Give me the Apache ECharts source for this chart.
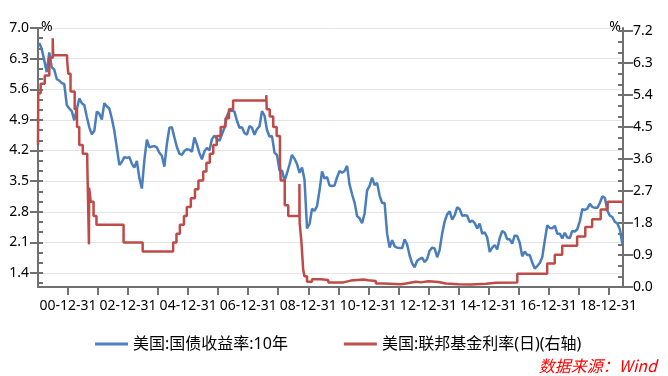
<!DOCTYPE html>
<html>
<head>
<meta charset="utf-8">
<script src="https://cdn.jsdelivr.net/npm/echarts@6/dist/echarts.min.js"></script>
<style>
html,body{margin:0;padding:0;background:#fff;}
#main{width:668px;height:376px;}
</style>
</head>
<body>
<div id="main"></div>
<script>
// 美国10年期国债收益率, 月度, 2000-01 ~ 2019-06
const startYear = 2000;
const yield10y = [
    6.66, 6.52, 6.26, 5.99, 6.44, 6.10, 6.05, 5.83, 5.80, 5.74, 5.72, 5.24, // 2000
    5.16, 5.10, 4.89, 5.14, 5.39, 5.28, 5.24, 4.97, 4.73, 4.57, 4.65, 5.09, // 2001
    5.04, 4.91, 5.28, 5.21, 5.16, 4.93, 4.65, 4.26, 3.87, 3.94, 4.05, 4.03, // 2002
    4.05, 3.90, 3.81, 3.96, 3.57, 3.33, 3.98, 4.45, 4.27, 4.29, 4.30, 4.27, // 2003
    4.15, 4.08, 3.83, 4.35, 4.72, 4.73, 4.50, 4.28, 4.13, 4.10, 4.19, 4.23, // 2004
    4.22, 4.17, 4.50, 4.34, 4.14, 4.00, 4.18, 4.26, 4.20, 4.46, 4.54, 4.47, // 2005
    4.42, 4.57, 4.72, 4.99, 5.11, 5.11, 5.09, 4.88, 4.72, 4.73, 4.60, 4.56, // 2006
    4.76, 4.72, 4.56, 4.69, 4.75, 5.10, 5.00, 4.67, 4.52, 4.53, 4.15, 4.10, // 2007
    3.74, 3.74, 3.51, 3.68, 3.88, 4.10, 4.01, 3.89, 3.69, 3.81, 3.53, 2.42, // 2008
    2.52, 2.87, 2.82, 2.93, 3.29, 3.72, 3.56, 3.59, 3.40, 3.39, 3.40, 3.59, // 2009
    3.73, 3.69, 3.73, 3.85, 3.42, 3.20, 3.01, 2.70, 2.65, 2.54, 2.76, 3.29, // 2010
    3.39, 3.58, 3.41, 3.46, 3.17, 3.00, 3.00, 2.30, 1.98, 2.15, 2.01, 1.98, // 2011
    1.97, 1.97, 2.17, 2.05, 1.80, 1.62, 1.53, 1.68, 1.72, 1.75, 1.65, 1.72, // 2012
    1.91, 1.98, 1.96, 1.76, 1.93, 2.30, 2.58, 2.74, 2.81, 2.62, 2.72, 2.90, // 2013
    2.86, 2.71, 2.72, 2.71, 2.56, 2.60, 2.54, 2.42, 2.53, 2.30, 2.33, 2.21, // 2014
    1.88, 1.98, 2.04, 1.94, 2.20, 2.36, 2.32, 2.17, 2.17, 2.07, 2.26, 2.24, // 2015
    2.09, 1.78, 1.89, 1.81, 1.81, 1.64, 1.50, 1.56, 1.63, 1.76, 2.14, 2.49, // 2016
    2.43, 2.42, 2.48, 2.30, 2.30, 2.19, 2.32, 2.21, 2.20, 2.36, 2.35, 2.40, // 2017
    2.58, 2.86, 2.84, 2.87, 2.98, 2.91, 2.89, 2.89, 3.00, 3.15, 3.12, 2.83, // 2018
    2.71, 2.68, 2.57, 2.53, 2.40, 2.07                                      // 2019
];

// 联邦基金利率(日), 取变动点
const fedDates = [
    '2000-01-01','2000-01-04','2000-02-03','2000-03-22','2000-05-17','2000-06-28','2000-07-03','2000-12-20',
    '2001-01-04','2001-02-01','2001-03-21','2001-04-19','2001-05-16','2001-06-28','2001-08-22','2001-09-12',
    '2001-09-14','2001-10-03','2001-11-07','2001-12-12','2002-11-07','2003-06-26','2004-07-01','2004-08-11',
    '2004-09-22','2004-11-11','2004-12-15','2005-02-03','2005-03-23','2005-05-04','2005-07-01','2005-08-10',
    '2005-09-21','2005-11-02','2005-12-14','2006-01-31','2006-03-29','2006-05-11','2006-06-30','2007-08-08',
    '2007-08-13','2007-09-19','2007-11-01','2007-12-12','2008-01-22','2008-01-31','2008-03-19','2008-05-01',
    '2008-09-15','2008-09-18','2008-10-08','2008-10-30','2008-11-15','2008-12-16','2009-02-15','2009-06-01',
    '2009-09-01','2010-03-01','2010-06-01','2010-11-01','2011-01-01','2011-04-01','2011-07-01','2012-02-01',
    '2012-04-01','2012-08-01','2012-10-01','2013-01-01','2013-05-01','2013-08-01','2014-01-01','2014-06-01',
    '2014-12-01','2015-04-01','2015-12-17','2016-12-15','2017-03-16','2017-06-15','2017-12-14','2018-03-22',
    '2018-06-14','2018-09-27','2018-12-20','2019-06-10','2019-06-24'
];
const fedRates = [
    4.00, 5.45, 5.72, 5.95, 6.45, 7.00, 6.52, 6.40,
    6.00, 5.50, 5.00, 4.50, 4.00, 3.75, 3.50, 1.20,
    2.80, 2.40, 2.00, 1.75, 1.25, 1.00, 1.25, 1.50,
    1.75, 2.00, 2.25, 2.50, 2.75, 3.00, 3.25, 3.50,
    3.75, 4.00, 4.25, 4.50, 4.75, 5.00, 5.25, 5.40,
    5.00, 4.80, 4.50, 4.25, 3.50, 3.00, 2.30, 2.00,
    2.90, 1.80, 1.30, 0.50, 0.30, 0.15, 0.22, 0.20,
    0.13, 0.18, 0.21, 0.19, 0.17, 0.10, 0.08, 0.10,
    0.15, 0.13, 0.16, 0.14, 0.10, 0.08, 0.07, 0.09,
    0.12, 0.13, 0.37, 0.66, 0.91, 1.16, 1.42, 1.69,
    1.91, 2.18, 2.40, 2.37, 2.37
];

// 坐标轴刻度
const xTickYears = [2001,2002,2003,2004,2005,2006,2007,2008,2009,2010,2011,2012,2013,2014,2015,2016,2017,2018,2019];
const xLabelYears = [2001,2003,2005,2007,2009,2011,2013,2015,2017,2019];
const leftTicks = [1.4, 2.1, 2.8, 3.5, 4.2, 4.9, 5.6, 6.3, 7.0];
const rightTicks = [0, 0.9, 1.8, 2.7, 3.6, 4.5, 5.4, 6.3, 7.2];

function toYear(s){
    let p = s.split('-');
    return +p[0] + (p[1] - 1) / 12 + (p[2] - 1) / 365;
}

let blueData = yield10y.map((v, i) => [startYear + (i + 0.5) / 12, v]);
let redData = fedRates.map((v, i) => [toYear(fedDates[i]), v]);

let leftMinor = [];
for (let k = -1; k <= 24; k++) leftMinor.push(+(1.4 + k * 0.7 / 3).toFixed(4));
let rightMinor = [];
for (let k = 0; k <= 24; k++) rightMinor.push(+(k * 0.3).toFixed(2));

const axisColor = '#707070';
const font = '"Noto Sans", "Noto Sans CJK SC", sans-serif';

let myChart = echarts.init(document.getElementById('main'), null, {renderer: 'canvas'});

let option = {
    animation: false,
    backgroundColor: '#fff',
    grid: {left: 38, right: 45, top: 28, bottom: 89, containLabel: false},
    legend: {
        left: 90,
        top: 331,
        icon: 'rect',
        itemWidth: 33,
        itemHeight: 3,
        itemGap: 56,
        textStyle: {fontSize: 16, color: '#000', fontFamily: font},
        data: ['美国:国债收益率:10年', '美国:联邦基金利率(日)(右轴)']
    },
    graphic: [{
        type: 'text',
        right: 11,
        bottom: 2,
        style: {
            text: '数据来源：Wind',
            fill: '#ff0000',
            font: 'italic 16px "Noto Sans CJK SC", sans-serif'
        }
    }],
    xAxis: {
        type: 'value',
        min: 2000,
        max: 2019.48,
        interval: 1,
        axisLine: {show: true, lineStyle: {color: axisColor, width: 2}},
        axisTick: {show: true, inside: false, length: 8, customValues: xTickYears, lineStyle: {color: axisColor, width: 2}},
        axisLabel: {
            customValues: xLabelYears,
            margin: 12,
            color: '#000',
            fontSize: 14,
            fontFamily: font,
            formatter: v => String(Math.round(v) - 1).slice(2) + '-12-31'
        },
        splitLine: {show: false}
    },
    yAxis: [
        {
            type: 'value',
            position: 'left',
            min: 1.08,
            max: 7.0,
            name: '%',
            nameLocation: 'end',
            nameGap: 1,
            nameTextStyle: {align: 'left', verticalAlign: 'middle', fontSize: 14, color: '#000', fontFamily: font, padding: [0, 0, 0, 3]},
            axisLine: {show: true, lineStyle: {color: axisColor, width: 2}},
            axisTick: {show: true, inside: false, length: 8, customValues: leftTicks, lineStyle: {color: axisColor, width: 2}},
            axisLabel: {customValues: leftTicks, margin: 9, color: '#000', fontSize: 14, fontFamily: font, formatter: v => v.toFixed(1)},
            splitLine: {show: true, lineStyle: {color: '#e4e4e4', width: 1}}
        },
        {
            type: 'value',
            position: 'right',
            min: 0,
            max: 7.29,
            name: '%',
            nameLocation: 'end',
            nameGap: 1,
            nameTextStyle: {align: 'right', verticalAlign: 'middle', fontSize: 14, color: '#000', fontFamily: font, padding: [0, 2, 0, 0]},
            axisLine: {show: true, lineStyle: {color: axisColor, width: 2}},
            axisTick: {show: true, inside: false, length: 10, customValues: rightTicks, lineStyle: {color: axisColor, width: 2}},
            axisLabel: {customValues: rightTicks, margin: 10, color: '#000', fontSize: 14, fontFamily: font, formatter: v => v.toFixed(1)},
            splitLine: {show: false}
        },
        {
            type: 'value',
            position: 'left',
            min: 1.08,
            max: 7.0,
            axisLine: {show: false},
            axisTick: {show: true, inside: true, length: 5, customValues: leftMinor, lineStyle: {color: axisColor, width: 2}},
            axisLabel: {show: false},
            splitLine: {show: false}
        },
        {
            type: 'value',
            position: 'right',
            min: 0,
            max: 7.29,
            axisLine: {show: false},
            axisTick: {show: true, inside: true, length: 5, customValues: rightMinor, lineStyle: {color: axisColor, width: 2}},
            axisLabel: {show: false},
            splitLine: {show: false}
        }
    ],
    series: [
        {
            name: '美国:国债收益率:10年',
            type: 'line',
            yAxisIndex: 0,
            showSymbol: false,
            color: '#4f81bd',
            lineStyle: {width: 2.5, color: '#4a7ebb'},
            data: blueData
        },
        {
            name: '美国:联邦基金利率(日)(右轴)',
            type: 'line',
            yAxisIndex: 1,
            step: 'end',
            showSymbol: false,
            color: '#c0504d',
            lineStyle: {width: 2.5, color: '#be4b48'},
            data: redData
        }
    ]
};
myChart.setOption(option);
</script>
</body>
</html>
